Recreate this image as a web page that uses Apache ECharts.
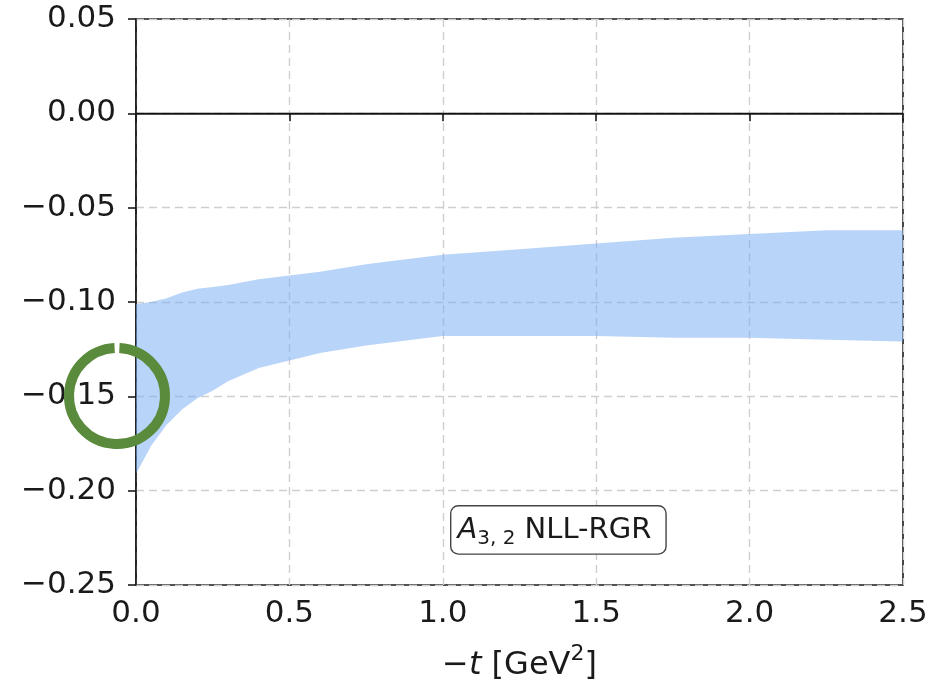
<!DOCTYPE html>
<html>
<head>
<meta charset="utf-8">
<script src="https://cdn.jsdelivr.net/npm/echarts@6/dist/echarts.min.js"></script>
<style>html,body{margin:0;padding:0;background:#fff;}#c{width:946px;height:683px;}</style>
</head>
<body>
<div id="c"></div>
<script>
// -t values [GeV^2]
var tValues = [0.0, 0.05, 0.1, 0.15, 0.2, 0.25, 0.3, 0.4, 0.5, 0.6, 0.75, 0.9, 1.0, 1.25, 1.5, 1.75, 2.0, 2.25, 2.5];
// upper edge of the band
var upperValues = [-0.101, -0.100, -0.098, -0.095, -0.093, -0.092, -0.091, -0.088, -0.086, -0.084, -0.080, -0.077, -0.075, -0.072, -0.069, -0.066, -0.064, -0.062, -0.062];
// lower edge of the band
var lowerValues = [-0.191, -0.176, -0.165, -0.157, -0.151, -0.147, -0.142, -0.135, -0.131, -0.127, -0.123, -0.120, -0.118, -0.118, -0.118, -0.119, -0.119, -0.120, -0.121];
var xTickLabels = ['0.0', '0.5', '1.0', '1.5', '2.0', '2.5'];
var yTickLabels = ['\u22120.25', '\u22120.20', '\u22120.15', '\u22120.10', '\u22120.05', '0.00', '0.05'];

var FONT = 'DejaVu Sans';
var INK = '#1a1a1a';
var chart = echarts.init(document.getElementById('c'), null, {renderer: 'canvas'});

var option = {
  animation: false,
  backgroundColor: '#ffffff',
  grid: {left: 136, right: 43, top: 19, bottom: 98, containLabel: false, outerBoundsMode: 'none',
    show: true, borderColor: INK, borderWidth: 1.6, backgroundColor: 'transparent'},
  xAxis: {
    type: 'value', min: 0, max: 2.5, interval: 0.5,
    axisLine: {show: true, lineStyle: {color: INK, width: 1.6}},
    axisTick: {show: true, inside: false, length: 8, lineStyle: {color: INK, width: 1.6}},
    axisLabel: {fontFamily: FONT, fontSize: 31, color: INK, margin: 13,
      formatter: function (v, i) { return xTickLabels[i]; }},
    splitLine: {show: true, lineStyle: {color: '#cfcfcf', type: [8, 5], width: 1.4}},
    name: '{n|\u2212}{i|t}{n| [GeV}{sup|2}{n|]}',
    nameLocation: 'middle', nameGap: 58,
    nameTextStyle: {
      rich: {
        n: {fontFamily: FONT, fontSize: 32, color: INK, lineHeight: 45, verticalAlign: 'middle'},
        i: {fontFamily: FONT, fontSize: 32, fontStyle: 'italic', color: INK, lineHeight: 45, verticalAlign: 'middle'},
        sup: {fontFamily: FONT, fontSize: 22, color: INK, lineHeight: 23, verticalAlign: 'top'}
      }
    }
  },
  yAxis: {
    type: 'value', min: -0.25, max: 0.05, interval: 0.05,
    axisLine: {show: true, lineStyle: {color: INK, width: 1.6}},
    axisTick: {show: true, inside: false, length: 8, lineStyle: {color: INK, width: 1.6}},
    axisLabel: {fontFamily: FONT, fontSize: 31, color: INK, margin: 20,
      formatter: function (v, i) { return yTickLabels[i]; }},
    splitLine: {show: true, lineStyle: {color: '#cfcfcf', type: [8, 5], width: 1.4}}
  },
  series: [
    {
      type: 'custom',
      coordinateSystem: 'cartesian2d',
      data: [[tValues[0], upperValues[0]]],
      z: 3,
      renderItem: function (params, api) {
        var pts = [];
        for (var i = 0; i < tValues.length; i++) pts.push(api.coord([tValues[i], upperValues[i]]));
        for (var j = tValues.length - 1; j >= 0; j--) pts.push(api.coord([tValues[j], lowerValues[j]]));
        return {type: 'polygon', shape: {points: pts}, style: {fill: 'rgba(118,172,244,0.52)', stroke: null}};
      },
      silent: true
    },
    {
      type: 'line',
      data: [[0, 0], [2.5, 0]],
      symbol: 'none',
      lineStyle: {color: '#111111', width: 1.4},
      z: 4,
      silent: true
    }
  ],
  graphic: [
    {
      type: 'text', left: 450, top: 505, z: 100,
      style: {
        text: '{a|A}{s|3, 2}{b| NLL-RGR}',
        rich: {
          a: {fontFamily: FONT, fontSize: 29, fontStyle: 'italic', fill: INK, lineHeight: 36, verticalAlign: 'middle'},
          s: {fontFamily: FONT, fontSize: 20, fill: INK, lineHeight: 22, verticalAlign: 'bottom'},
          b: {fontFamily: FONT, fontSize: 29, fill: INK, lineHeight: 36, verticalAlign: 'middle'}
        },
        backgroundColor: '#ffffff',
        borderColor: '#444444', borderWidth: 1.4, borderRadius: 7,
        padding: [6, 14, 5, 6]
      }
    },
    {
      type: 'arc', z: 200,
      shape: {cx: 117, cy: 396, r: 48, startAngle: -Math.PI / 2 + 0.05, endAngle: 1.5 * Math.PI - 0.05},
      style: {fill: null, stroke: '#5a8a3b', lineWidth: 10}
    }
  ]
};
chart.setOption(option);
</script>
</body>
</html>
